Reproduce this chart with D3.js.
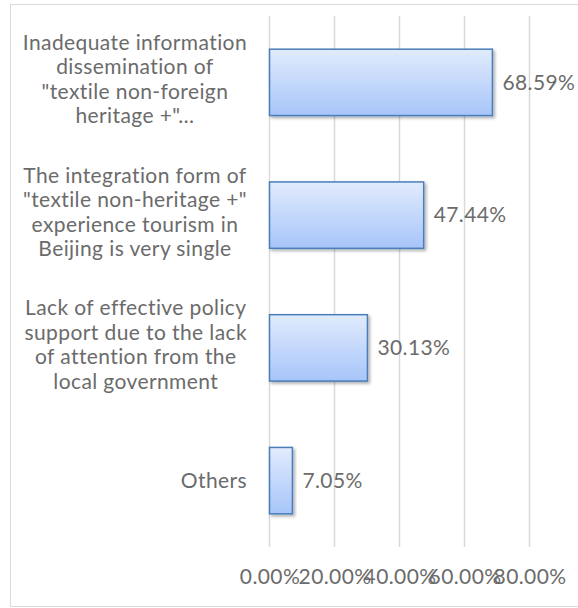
<!DOCTYPE html>
<html>
<head>
<meta charset="utf-8">
<script src="https://cdn.jsdelivr.net/npm/d3@7"></script>
<style>
	body { margin: 0; background: #fff; }
	svg { display: block; }
</style>
</head>
<body>
<script>
	// chart data, top to bottom
	var categories = [
		['Inadequate information', 'dissemination of', '"textile non-foreign', 'heritage +"…'],
		['The integration form of', '"textile non-heritage +"', 'experience tourism in', 'Beijing is very single'],
		['Lack of effective policy', 'support due to the lack', 'of attention from the', 'local government'],
		['Others']
	];
	var values = [68.59, 47.44, 30.13, 7.05];
	var ticks = [0, 20, 40, 60, 80];

	var WIDTH = 578, HEIGHT = 608;
	var FONT = 'Lato, "Open Sans", sans-serif';
	var GREY = '#6b6b6b';
	var FONT_SIZE = '21px';
	var SPACING = '0.4px';

	var svg = d3.select('body').append('svg')
		.attr('width', WIDTH)
		.attr('height', HEIGHT);

	var defs = svg.append('defs');
	var grad = defs.append('linearGradient')
		.attr('id', 'barFill')
		.attr('x1', 0).attr('y1', 0).attr('x2', 0).attr('y2', 1);
	grad.append('stop').attr('offset', '0%').attr('stop-color', '#e1ebfd');
	grad.append('stop').attr('offset', '100%').attr('stop-color', '#a7c5f9');

	var shadow = defs.append('filter').attr('id', 'shadow')
		.attr('x', '-10%').attr('y', '-10%').attr('width', '130%').attr('height', '130%');
	shadow.append('feDropShadow')
		.attr('dx', 2).attr('dy', 2).attr('stdDeviation', 1.6)
		.attr('flood-color', '#000').attr('flood-opacity', 0.3);

	// outer frame
	svg.append('rect')
		.attr('x', 10.5).attr('y', 4.5)
		.attr('width', WIDTH).attr('height', 602)
		.attr('fill', 'none')
		.attr('stroke', '#d9d9d9')
		.attr('stroke-width', 1);

	// plot area
	var plot = { left: 269.5, right: 529.5, top: 16, bottom: 547 };

	var x = d3.scaleLinear()
		.domain([0, 80])
		.range([plot.left, plot.right]);

	var y = d3.scaleBand()
		.domain(d3.range(values.length))
		.range([plot.top, plot.bottom])
		.paddingInner(0.5)
		.paddingOuter(0.25);

	// vertical gridlines
	svg.append('g').selectAll('line')
		.data(ticks)
		.enter()
		.append('line')
		.attr('x1', function(d) { return x(d); })
		.attr('x2', function(d) { return x(d); })
		.attr('y1', plot.top)
		.attr('y2', plot.bottom)
		.attr('stroke', '#d9d9d9')
		.attr('stroke-width', 1.5);

	// x axis tick labels (no axis line in the original, labels overlap there too)
	var xAxis = d3.axisBottom(x)
		.tickValues(ticks)
		.tickSize(0)
		.tickPadding(0)
		.tickFormat(function(d) { return d.toFixed(2) + '%'; });

	var axisG = svg.append('g')
		.attr('transform', 'translate(0,' + 584 + ')')
		.call(xAxis);
	axisG.select('.domain').remove();
	axisG.selectAll('text')
		.attr('dy', 0)
		.attr('fill', GREY)
		.style('font-family', FONT)
		.style('font-size', FONT_SIZE)
		.style('letter-spacing', SPACING);

	// bars
	svg.append('g').selectAll('rect')
		.data(values)
		.enter()
		.append('rect')
		.attr('x', x(0))
		.attr('y', function(d, i) { return y(i); })
		.attr('width', function(d) { return x(d) - x(0); })
		.attr('height', y.bandwidth())
		.attr('fill', 'url(#barFill)')
		.attr('stroke', '#4a7ebb')
		.attr('stroke-width', 1.5)
		.attr('filter', 'url(#shadow)');

	// value labels
	svg.append('g').selectAll('text')
		.data(values)
		.enter()
		.append('text')
		.attr('x', function(d) { return x(d) + 10; })
		.attr('y', function(d, i) { return y(i) + y.bandwidth() / 2; })
		.attr('dy', '0.35em')
		.attr('fill', GREY)
		.style('font-family', FONT)
		.style('font-size', FONT_SIZE)
		.style('letter-spacing', SPACING)
		.text(function(d) { return d.toFixed(2) + '%'; });

	// category labels: lines centred inside a block, block right-aligned
	var LINE = 24.5;
	var LABEL_RIGHT = 247;
	var LABEL_SHIFT = -3;
	var labels = svg.append('g').selectAll('text')
		.data(categories)
		.enter()
		.append('text')
		.attr('fill', GREY)
		.attr('text-anchor', 'middle')
		.style('font-family', FONT)
		.style('font-size', FONT_SIZE)
		.style('letter-spacing', SPACING);

	labels.each(function(lines, i) {
		var t = d3.select(this);
		var cy = y(i) + y.bandwidth() / 2 + (lines.length > 1 ? LABEL_SHIFT : 0);
		var top = cy - (lines.length - 1) * LINE / 2;
		lines.forEach(function(line, k) {
			t.append('tspan')
				.attr('y', top + k * LINE)
				.attr('dy', '0.35em')
				.text(line);
		});
		var maxW = 0;
		t.selectAll('tspan').each(function() {
			maxW = Math.max(maxW, this.getComputedTextLength());
		});
		t.selectAll('tspan').attr('x', LABEL_RIGHT - maxW / 2);
	});
</script>
</body>
</html>
